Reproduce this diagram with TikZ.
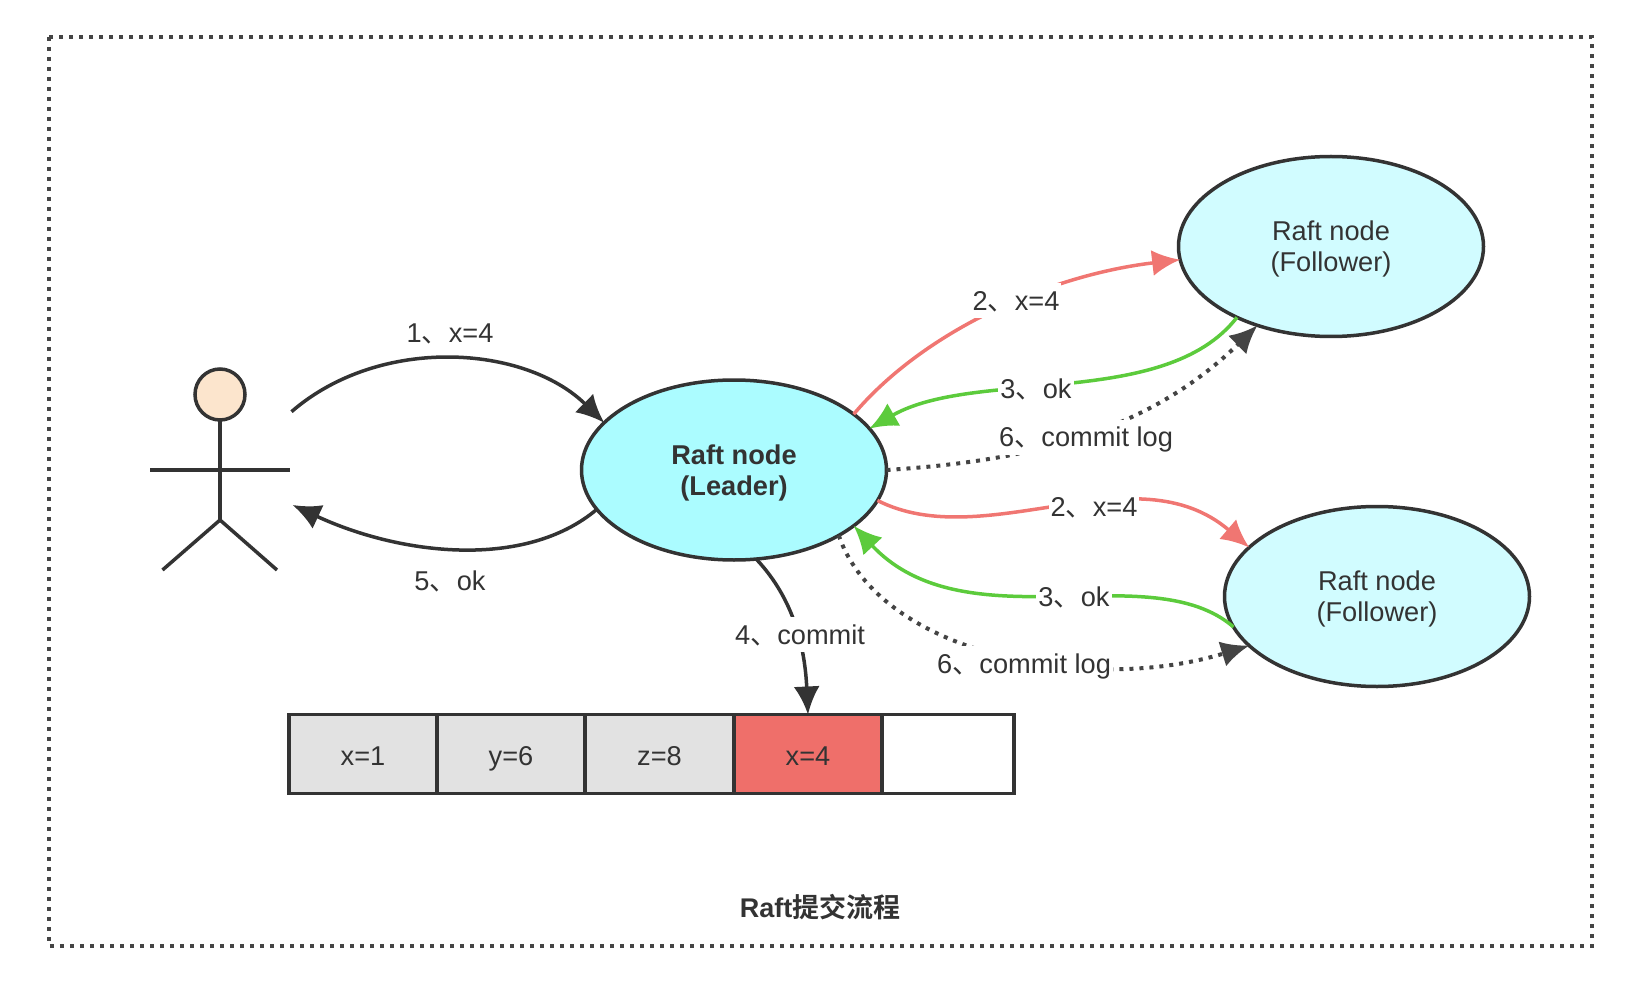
\documentclass[tikz,border=0pt]{standalone}
\usepackage{fontspec}
\setmainfont{Liberation Sans}
\newfontfamily\cjk[BoldFont={Noto Sans CJK SC Bold}]{Noto Sans CJK SC}
\usetikzlibrary{arrows.meta,shapes.geometric}
\definecolor{ink}{HTML}{333333}
\definecolor{dots}{HTML}{444444}
\definecolor{redline}{HTML}{F07672}
\definecolor{greenline}{HTML}{5CCB3C}
\definecolor{leaderfill}{HTML}{ABFCFF}
\definecolor{followerfill}{HTML}{D1FCFF}
\definecolor{cellgrey}{HTML}{E2E2E2}
\definecolor{cellred}{HTML}{EF6F6A}
\definecolor{skin}{HTML}{FCE5CD}
% two centred lines, set slightly below the middle of the ellipse
\newcommand{\raftlines}[2]{\raisebox{-1.75pt}[\height][\depth]{\begin{tabular}{@{}c@{}}#1\\#2\end{tabular}}}
\tikzset{
  every node/.style={text=ink,font=\fontsize{13.6}{15.7}\selectfont},
  raft/.style={ellipse,draw=ink,line width=1.75pt,inner sep=0pt,outer sep=0pt,
    minimum width=152.5pt,minimum height=90pt},
  cell/.style={rectangle,draw=ink,line width=1.75pt,inner sep=0pt,outer sep=0pt,
    minimum height=39.5pt,text height=11.2pt,text depth=0pt},
  tag/.style={fill=white,inner xsep=1pt,inner ysep=0pt,minimum height=17.5pt,
    text height=9.7pt,text depth=0pt},
  link/.style={line width=1.75pt,-{Latex[length=14pt,width=13pt]}},
  dark/.style={link,draw=ink},
  redlink/.style={link,draw=redline},
  greenlink/.style={link,draw=greenline},
  dotlink/.style={link,draw=dots,line width=2pt,dash pattern=on 2pt off 3pt},
  limb/.style={draw=ink,line width=1.75pt}
}
\begin{document}
\begin{tikzpicture}[x=0.5pt,y=-0.5pt]
\useasboundingbox (0,0) rectangle (1644,984);
% outer dotted frame
\draw[draw=dots,line width=2pt,dash pattern=on 2pt off 3pt] (49,37) rectangle (1592,946);

% raft nodes
\node[raft,fill=leaderfill] (leader) at (734,470) {\raftlines{\bfseries Raft node}{\bfseries (Leader)}};
\node[raft,fill=followerfill] (followerA) at (1331,246.5) {\raftlines{Raft node}{(Follower)}};
\node[raft,fill=followerfill] (followerB) at (1377,596.5) {\raftlines{Raft node}{(Follower)}};

% stick figure
\node[ellipse,draw=ink,fill=skin,line width=1.75pt,inner sep=0pt,outer sep=0pt,
  minimum width=25pt,minimum height=25.5pt] (head) at (220,394.5) {};
\coordinate (hip) at (220,520);
\coordinate (armL) at (150,470);
\coordinate (armR) at (290,470);
\coordinate (footL) at (162.5,570);
\coordinate (footR) at (277,570);
\draw[limb] (head.south) -- (hip);
\draw[limb] (armL) -- (armR);
\draw[limb] (footL) -- (hip) -- (footR);
\coordinate (actorOut) at (291.5,411.7);
\coordinate (actorIn) at (292.6,505);

% log cells
\node[cell,fill=cellgrey,minimum width=74pt] (c1) at (363,754) {x=1};
\node[cell,fill=cellgrey,minimum width=74pt] (c2) at (511,754) {y=6};
\node[cell,fill=cellgrey,minimum width=74.5pt] (c3) at (659.5,754) {z=8};
\node[cell,fill=cellred,minimum width=74pt] (c4) at (808,754) {x=4};
\node[cell,fill=white,minimum width=66pt] (c5) at (948,754) {};

% connectors
\draw[dark] (actorOut) .. controls (380,335) and (525,345) .. (leader.160);
\draw[dark] (leader.196.2) .. controls (525,570) and (400,555) .. (actorIn);
\draw[redlink] (leader.25.7) .. controls (925,330) and (1050,275) .. (followerA.185.4);
\draw[greenlink] (followerA.217.8) .. controls (1165,410) and (975,368) .. (leader.17.8);
\draw[dotlink] (leader.0) .. controls (1010,462) and (1140,440) .. (followerA.227.5);
\draw[redlink] (leader.-12.1) .. controls (985,555) and (1135,450) .. (followerB.159.6);
\draw[greenlink] (followerB.192.8) .. controls (1150,555) and (965,645) .. (leader.-25.6);
\draw[dotlink] (leader.-32.9) .. controls (880,655) and (1090,695) .. (followerB.201.4);
\draw[dark] (leader.-76) .. controls (795,600) and (805,650) .. (c4.north);

% connector labels
\node[tag,fill=none] (l1) at (450,332.7) {1{\cjk 、}x=4};
\node[tag,fill=none] (l5) at (450,581) {5{\cjk 、}ok};
\node[tag] (l2a) at (1016,301) {2{\cjk 、}x=4};
\node[tag] (l3a) at (1036,389) {3{\cjk 、}ok};
\node[tag] (l6a) at (1086,437) {6{\cjk 、}commit log};
\node[tag] (l2b) at (1094,506.7) {2{\cjk 、}x=4};
\node[tag] (l3b) at (1074,596.7) {3{\cjk 、}ok};
\node[tag] (l6b) at (1024,663.7) {6{\cjk 、}commit log};
\node[tag] (l4) at (800,634.3) {4{\cjk 、}commit};

% caption
\node[font=\fontsize{13.5}{15.5}\selectfont\bfseries] (title) at (820,907) {Raft{\cjk 提交流程}};
\end{tikzpicture}
\end{document}
